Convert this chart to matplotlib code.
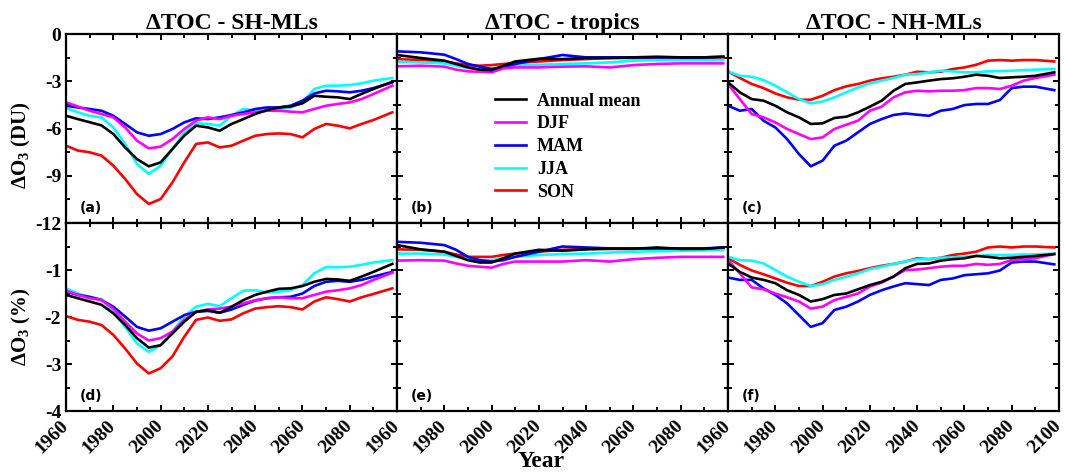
import matplotlib
matplotlib.use("Agg")
import matplotlib.pyplot as plt
from matplotlib.ticker import MultipleLocator

plt.rcParams['font.family'] = ['Liberation Serif', 'DejaVu Serif']
plt.rcParams['font.weight'] = 'bold'
plt.rcParams['axes.unicode_minus'] = False
plt.rcParams['mathtext.fontset'] = 'custom'
plt.rcParams['mathtext.rm'] = 'Liberation Serif:bold'
plt.rcParams['mathtext.it'] = 'Liberation Serif:bold'
plt.rcParams['mathtext.bf'] = 'Liberation Serif:bold'

# years for the mid-latitude panels and for the tropics
years = [1960, 1965, 1970, 1975, 1980, 1985, 1990, 1995, 2000, 2005, 2010, 2015, 2020, 2025,
         2030, 2035, 2040, 2045, 2050, 2055, 2060, 2065, 2070, 2075, 2080, 2085, 2090, 2098]
years_tr = [1960, 1970, 1980, 1985, 1990, 1995, 2000, 2005, 2010, 2020, 2030, 2040, 2050,
            2060, 2070, 2080, 2090, 2098]

seasons = ["Annual mean", "DJF", "MAM", "JJA", "SON"]
colors = ["black", "#ff00ff", "#0000ff", "#00ffff", "#ff0000"]
titles = ["\u0394TOC - SH-MLs", "\u0394TOC - tropics", "\u0394TOC - NH-MLs"]
panel_tags = ["(a)", "(b)", "(c)", "(d)", "(e)", "(f)"]

# (a) SH-MLs, DU
sh_du_ann = [-5.19, -5.4, -5.6, -5.8, -6.35, -7.2, -7.94, -8.4, -8.15, -7.3, -6.45, -5.82, -5.93, -6.14,
             -5.71, -5.4, -5.08, -4.83, -4.66, -4.6, -4.4, -3.92, -3.98, -4.02, -4.13, -3.8, -3.49, -3.03]
sh_du_djf = [-4.34, -4.6, -4.87, -5.08, -5.29, -5.93, -6.77, -7.26, -7.15, -6.67, -6.03, -5.5, -5.29, -5.4,
             -5.19, -5.08, -4.97, -4.87, -4.87, -4.93, -4.97, -4.76, -4.55, -4.44, -4.34, -4.13, -3.81, -3.28]
sh_du_mam = [-4.55, -4.66, -4.76, -4.87, -5.19, -5.71, -6.24, -6.46, -6.35, -6.03, -5.61, -5.35, -5.4, -5.29,
             -5.14, -4.97, -4.76, -4.66, -4.66, -4.55, -4.23, -3.77, -3.6, -3.64, -3.7, -3.6, -3.43, -3.07]
sh_du_jja = [-4.7, -4.97, -5.19, -5.29, -5.93, -6.98, -8.25, -8.89, -8.36, -7.3, -6.24, -5.67, -5.71, -5.82,
             -5.19, -4.76, -4.87, -4.87, -4.76, -4.66, -4.34, -3.49, -3.28, -3.28, -3.24, -3.13, -2.96, -2.79]
sh_du_son = [-7.09, -7.4, -7.51, -7.72, -8.36, -9.2, -10.16, -10.79, -10.48, -9.42, -8.15, -6.98, -6.88, -7.2,
             -7.09, -6.77, -6.46, -6.35, -6.31, -6.35, -6.56, -6.03, -5.71, -5.82, -5.99, -5.71, -5.46, -4.97]

# (b) tropics, DU
tr_du_ann = [-1.33, -1.52, -1.69, -1.9, -2.12, -2.26, -2.29, -2.01, -1.74, -1.57, -1.59, -1.52, -1.52,
             -1.48, -1.44, -1.48, -1.48, -1.44]
tr_du_djf = [-2.05, -2.01, -2.07, -2.26, -2.37, -2.39, -2.43, -2.18, -2.12, -2.12, -2.07, -2.05, -2.12,
             -1.97, -1.9, -1.86, -1.86, -1.86]
tr_du_mam = [-1.1, -1.16, -1.31, -1.59, -1.9, -2.07, -2.22, -2.12, -1.9, -1.59, -1.33, -1.48, -1.48,
             -1.48, -1.48, -1.48, -1.48, -1.44]
tr_du_jja = [-1.76, -1.8, -1.86, -2.01, -2.16, -2.22, -2.18, -2.07, -2.01, -1.95, -1.9, -1.86, -1.8,
             -1.69, -1.65, -1.65, -1.65, -1.65]
tr_du_son = [-1.59, -1.65, -1.74, -1.86, -1.97, -2.01, -1.97, -1.9, -1.84, -1.74, -1.65, -1.59, -1.52,
             -1.52, -1.52, -1.52, -1.52, -1.48]

# (c) NH-MLs, DU
nh_du_ann = [-3.07, -3.7, -4.13, -4.23, -4.55, -4.97, -5.29, -5.71, -5.67, -5.33, -5.25, -4.97, -4.61, -4.23,
             -3.6, -3.17, -3.07, -2.96, -2.86, -2.81, -2.71, -2.58, -2.65, -2.79, -2.75, -2.71, -2.65, -2.43]
nh_du_djf = [-3.17, -4.13, -5.08, -5.29, -5.61, -6.03, -6.35, -6.67, -6.56, -6.03, -5.76, -5.5, -4.87, -4.61,
             -4.02, -3.7, -3.6, -3.64, -3.6, -3.6, -3.56, -3.43, -3.43, -3.49, -3.28, -2.96, -2.79, -2.58]
nh_du_mam = [-4.55, -4.87, -4.76, -5.5, -5.93, -6.67, -7.62, -8.4, -8.04, -7.09, -6.77, -6.24, -5.71, -5.4,
             -5.14, -5.04, -5.12, -5.19, -4.87, -4.76, -4.51, -4.44, -4.44, -4.19, -3.43, -3.34, -3.34, -3.56]
nh_du_jja = [-2.37, -2.65, -2.71, -2.92, -3.28, -3.7, -4.13, -4.4, -4.28, -4.02, -3.7, -3.39, -3.13, -2.96,
             -2.79, -2.58, -2.54, -2.43, -2.33, -2.37, -2.43, -2.43, -2.37, -2.35, -2.33, -2.29, -2.26, -2.22]
nh_du_son = [-2.37, -2.79, -3.17, -3.43, -3.77, -4.02, -4.17, -4.17, -3.92, -3.56, -3.32, -3.17, -2.96, -2.81,
             -2.71, -2.58, -2.39, -2.43, -2.39, -2.22, -2.12, -1.95, -1.69, -1.65, -1.69, -1.65, -1.65, -1.74]

# (d) SH-MLs, %
sh_pc_ann = [-1.53, -1.6, -1.67, -1.74, -1.92, -2.17, -2.45, -2.65, -2.6, -2.35, -2.1, -1.89, -1.85, -1.91,
             -1.78, -1.64, -1.53, -1.46, -1.4, -1.39, -1.34, -1.25, -1.19, -1.2, -1.23, -1.14, -1.04, -0.87]
sh_pc_djf = [-1.44, -1.53, -1.6, -1.64, -1.82, -2.1, -2.35, -2.5, -2.45, -2.31, -2.06, -1.89, -1.84, -1.82,
             -1.78, -1.71, -1.64, -1.6, -1.58, -1.6, -1.6, -1.53, -1.46, -1.43, -1.39, -1.32, -1.21, -1.06]
sh_pc_mam = [-1.46, -1.53, -1.57, -1.64, -1.78, -1.99, -2.21, -2.29, -2.24, -2.1, -1.96, -1.89, -1.87, -1.91,
             -1.84, -1.74, -1.65, -1.6, -1.58, -1.57, -1.5, -1.34, -1.25, -1.23, -1.25, -1.21, -1.14, -1.04]
sh_pc_jja = [-1.39, -1.5, -1.58, -1.62, -1.89, -2.21, -2.56, -2.74, -2.6, -2.31, -1.99, -1.78, -1.72, -1.77,
             -1.6, -1.44, -1.43, -1.48, -1.46, -1.43, -1.32, -1.07, -0.94, -0.94, -0.93, -0.89, -0.84, -0.79]
sh_pc_son = [-1.98, -2.06, -2.1, -2.17, -2.38, -2.67, -2.99, -3.2, -3.09, -2.84, -2.42, -2.06, -2.01, -2.08,
             -2.05, -1.92, -1.82, -1.79, -1.77, -1.79, -1.84, -1.67, -1.58, -1.62, -1.67, -1.58, -1.51, -1.39]

# (e) tropics, %
tr_pc_ann = [-0.47, -0.56, -0.61, -0.7, -0.79, -0.84, -0.84, -0.75, -0.65, -0.57, -0.59, -0.56, -0.55,
             -0.55, -0.52, -0.55, -0.55, -0.52]
tr_pc_djf = [-0.8, -0.79, -0.8, -0.86, -0.91, -0.93, -0.95, -0.87, -0.82, -0.82, -0.82, -0.79, -0.82,
             -0.77, -0.74, -0.72, -0.72, -0.72]
tr_pc_mam = [-0.4, -0.42, -0.47, -0.57, -0.72, -0.79, -0.82, -0.79, -0.72, -0.61, -0.5, -0.52, -0.54,
             -0.54, -0.54, -0.54, -0.54, -0.52]
tr_pc_jja = [-0.65, -0.65, -0.67, -0.72, -0.77, -0.79, -0.79, -0.75, -0.72, -0.68, -0.66, -0.65, -0.63,
             -0.61, -0.6, -0.59, -0.58, -0.57]
tr_pc_son = [-0.56, -0.57, -0.61, -0.67, -0.72, -0.72, -0.72, -0.68, -0.65, -0.61, -0.57, -0.55, -0.54,
             -0.54, -0.54, -0.55, -0.54, -0.54]

# (f) NH-MLs, %
nh_pc_ann = [-0.86, -1.04, -1.16, -1.21, -1.28, -1.43, -1.53, -1.67, -1.62, -1.53, -1.5, -1.41, -1.32, -1.25,
             -1.14, -0.96, -0.87, -0.86, -0.8, -0.77, -0.75, -0.7, -0.72, -0.75, -0.74, -0.72, -0.7, -0.66]
nh_pc_djf = [-0.79, -1.07, -1.37, -1.41, -1.5, -1.58, -1.67, -1.82, -1.78, -1.64, -1.57, -1.5, -1.35, -1.27,
             -1.14, -1.0, -0.99, -0.96, -0.93, -0.91, -0.91, -0.87, -0.89, -0.87, -0.79, -0.77, -0.75, -0.66]
nh_pc_mam = [-1.16, -1.21, -1.21, -1.39, -1.53, -1.71, -1.96, -2.21, -2.13, -1.85, -1.78, -1.67, -1.53, -1.43,
             -1.35, -1.28, -1.3, -1.32, -1.21, -1.18, -1.11, -1.09, -1.07, -1.01, -0.84, -0.82, -0.82, -0.88]
nh_pc_jja = [-0.72, -0.79, -0.8, -0.86, -1.0, -1.14, -1.25, -1.34, -1.3, -1.21, -1.14, -1.07, -0.98, -0.93,
             -0.87, -0.82, -0.77, -0.77, -0.74, -0.73, -0.72, -0.7, -0.68, -0.68, -0.68, -0.67, -0.67, -0.65]
nh_pc_son = [-0.75, -0.89, -1.01, -1.09, -1.18, -1.27, -1.34, -1.34, -1.25, -1.14, -1.07, -1.02, -0.96, -0.91,
             -0.87, -0.82, -0.75, -0.77, -0.74, -0.68, -0.65, -0.61, -0.52, -0.5, -0.52, -0.5, -0.5, -0.52]

panels = [
    (years, [sh_du_ann, sh_du_djf, sh_du_mam, sh_du_jja, sh_du_son]),
    (years_tr, [tr_du_ann, tr_du_djf, tr_du_mam, tr_du_jja, tr_du_son]),
    (years, [nh_du_ann, nh_du_djf, nh_du_mam, nh_du_jja, nh_du_son]),
    (years, [sh_pc_ann, sh_pc_djf, sh_pc_mam, sh_pc_jja, sh_pc_son]),
    (years_tr, [tr_pc_ann, tr_pc_djf, tr_pc_mam, tr_pc_jja, tr_pc_son]),
    (years, [nh_pc_ann, nh_pc_djf, nh_pc_mam, nh_pc_jja, nh_pc_son]),
]

fig = plt.figure(figsize=(10.67, 4.73), dpi=100)
left, right = 0.0619, 0.9925
w = (right - left) / 3
bot, mid, top = 0.131, 0.5285, 0.928

axes = []
for i in range(6):
    r, c = divmod(i, 3)
    y0 = mid if r == 0 else bot
    h = (top - mid) if r == 0 else (mid - bot)
    ax = fig.add_axes([left + c * w, y0, w, h])
    axes.append(ax)
    xs, series = panels[i]
    lines = []
    for k in [4, 3, 2, 1, 0]:
        ln, = ax.plot(xs, series[k], color=colors[k], lw=1.9, label=seasons[k])
        lines.append(ln)
    ax.set_xlim(1960, 2100)
    if r == 0:
        ax.set_ylim(-12, 0)
        ax.yaxis.set_major_locator(MultipleLocator(3))
        ax.yaxis.set_minor_locator(MultipleLocator(1.5))
    else:
        ax.set_ylim(-4, 0)
        ax.set_yticks([-4, -3, -2, -1])
        ax.yaxis.set_minor_locator(MultipleLocator(0.5))
    ax.set_xticks(range(1960, 2101, 20))
    ax.xaxis.set_minor_locator(MultipleLocator(10))
    ax.tick_params(which='both', direction='in', top=True, right=True, width=1.4)
    ax.tick_params(which='major', length=4.5, labelsize=14)
    ax.tick_params(which='minor', length=3)
    for s in ax.spines.values():
        s.set_linewidth(1.6)
    if c != 0:
        ax.set_yticklabels([])
    if r == 0:
        ax.set_xticklabels([])
        ax.set_title(titles[c], fontsize=17, fontweight='bold', pad=3)
    else:
        labs = [str(v) for v in range(1960, 2101, 20)]
        if c != 2:
            labs[-1] = ''
        ax.set_xticklabels(labs, rotation=45, ha='right', va='center', rotation_mode='anchor')
        ax.tick_params(axis='x', which='major', pad=9)
    ax.text(0.04, 0.08, panel_tags[i], transform=ax.transAxes, fontsize=10,
            fontweight='bold', family='DejaVu Sans', va='center')
    if i == 1:
        handles = lines[::-1]
        ax.legend(handles, [h.get_label() for h in handles], loc='upper left',
                  bbox_to_anchor=(0.297, 0.69), frameon=False, fontsize=13,
                  handlelength=1.7, handletextpad=0.6, labelspacing=0.32,
                  borderpad=0, borderaxespad=0)

axes[0].set_ylabel('\u0394O$_3$ (DU)', fontsize=15, fontweight='bold')
axes[0].yaxis.set_label_coords(-0.10, 0.41)
axes[3].set_ylabel('\u0394O$_3$ (%)', fontsize=15, fontweight='bold')
axes[3].yaxis.set_label_coords(-0.10, 0.45)

fig.text(0.507, 0.024, 'Year', fontsize=17, fontweight='bold', ha='center', va='center')

fig.savefig('out.png', dpi=100)
